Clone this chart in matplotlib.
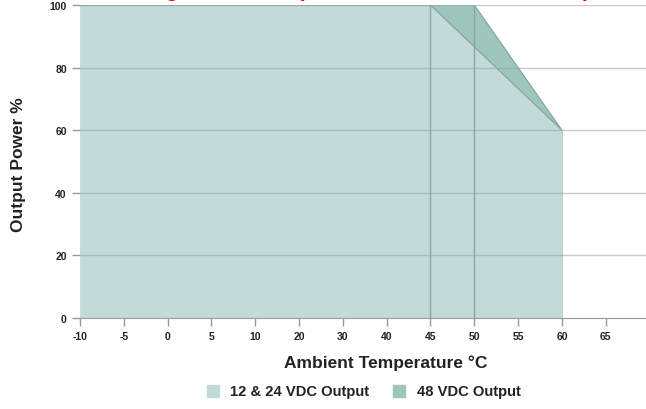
import numpy as np
import matplotlib.pyplot as plt

plt.rcParams["font.family"] = ["Liberation Sans", "DejaVu Sans"]

# Tick labels on the temperature axis (spaced evenly, not to scale)
temp_labels = ["-10", "-5", "0", "5", "10", "20", "30", "40", "45", "50", "55", "60", "65"]

# Derating curves: temperature (°C) and output power (%)
temp_1224 = [-10, 45, 60]
power_1224 = [100, 100, 60]
temp_48 = [-10, 50, 60]
power_48 = [100, 100, 60]

y_ticks = [0, 20, 40, 60, 80, 100]

light_color = "#c3dbd8"
dark_color = "#9ec6bc"
edge_color = "#7fa39d"


def to_index(temps):
    # map a temperature to its position on the evenly spaced category axis
    return [temp_labels.index(str(t)) for t in temps]


fig = plt.figure(figsize=(6.46, 4.10), dpi=100)
ax = fig.add_axes([80 / 646, (410 - 319) / 410, (646 - 80) / 646, (319 - 6) / 410])

x48 = to_index(temp_48)
x1224 = to_index(temp_1224)

# 48 VDC area first, the 12 & 24 VDC area on top of it
ax.fill_between(x48, power_48, 0, color=dark_color, lw=0, zorder=1)
ax.plot(x48 + [x48[-1]], power_48 + [0], color=edge_color, lw=0.8, zorder=2)
ax.fill_between(x1224, power_1224, 0, color=light_color, lw=0, zorder=2)
ax.plot(x1224, power_1224, color=edge_color, lw=0.8, zorder=3)

# horizontal grid lines across the full width
for y in y_ticks[1:]:
    ax.axhline(y, color="#a0a0a0", lw=1.0, alpha=0.55, zorder=4)

# vertical lines at 45 and 50 °C
for t in [45, 50]:
    ax.plot([temp_labels.index(str(t))] * 2, [0, 100], color="#8aa5a0", lw=1.0, zorder=4)

ax.set_xlim(0, 12.92)
ax.set_ylim(0, 100)

ax.set_xticks(range(len(temp_labels)))
ax.set_xticklabels(temp_labels)
ax.set_yticks(y_ticks)

for side in ["top", "right"]:
    ax.spines[side].set_visible(False)
ax.spines["left"].set_visible(False)
ax.spines["bottom"].set_color("#999999")
ax.tick_params(axis="both", colors="#999999", length=6, width=1,
               labelcolor="#222222", labelsize=7.5)
for lab in ax.get_xticklabels() + ax.get_yticklabels():
    lab.set_fontweight("bold")

ax.set_xlabel("Ambient Temperature °C", fontsize=12.5, fontweight="bold",
              color="#222222")
ax.xaxis.set_label_coords((386 - 80) / 566, -0.115)
ax.set_ylabel("Output Power %", fontsize=12.5, fontweight="bold", color="#222222")
ax.yaxis.set_label_coords(-(80 - 26) / 566, (319 - 165) / 313)

# legend
fig.patches.append(plt.Rectangle((207 / 646, (410 - 398) / 410), 12 / 646, 12 / 410,
                                 transform=fig.transFigure, color=light_color))
fig.text(230 / 646, (410 - 392) / 410, "12 & 24 VDC Output", fontsize=10.6,
         fontweight="bold", color="#222222", va="center")
fig.patches.append(plt.Rectangle((393 / 646, (410 - 398) / 410), 12 / 646, 12 / 410,
                                 transform=fig.transFigure, color=dark_color))
fig.text(417 / 646, (410 - 392) / 410, "48 VDC Output", fontsize=10.6,
         fontweight="bold", color="#222222", va="center")

# red heading, cropped by the top edge as in the source image
fig.text(380 / 646, 1.0 + 4 / 410, "Derating Curve: Output Power vs Ambient Temperature",
         fontsize=16, fontweight="bold", color="#dd1111", ha="center", va="baseline")

fig.savefig("out.png", dpi=100)
